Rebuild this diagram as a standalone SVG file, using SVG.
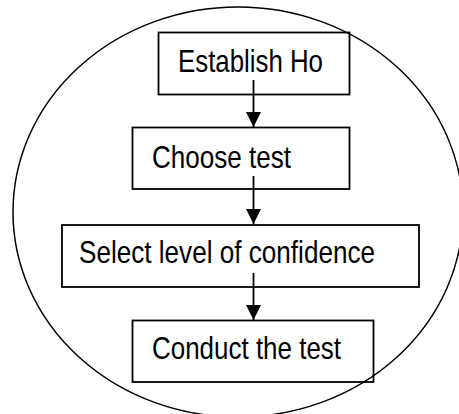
<svg xmlns="http://www.w3.org/2000/svg" width="459" height="414" viewBox="0 0 459 414">
<defs>
<style>
.box{fill:none;stroke:#000;stroke-width:1.8}
.lbl{font-family:"Liberation Sans",Arial,sans-serif;font-size:30.5px;fill:#000}
.conn{stroke:#000;stroke-width:1.8;fill:none}
</style>
<marker id="ah" markerWidth="16" markerHeight="16" refX="15" refY="7.5" orient="auto" markerUnits="userSpaceOnUse">
<path d="M0,0 L15,7.5 L0,15 Z" fill="#000"/>
</marker>
</defs>
<rect width="459" height="414" fill="#fff"/>
<ellipse id="boundary" cx="238" cy="212" rx="225" ry="205" fill="none" stroke="#000" stroke-width="1.5"/>
<g id="connectors">
<line class="conn" x1="253.5" y1="80" x2="253.5" y2="127" marker-end="url(#ah)"/>
<line class="conn" x1="253.5" y1="176" x2="253.5" y2="224" marker-end="url(#ah)"/>
<line class="conn" x1="253.5" y1="273" x2="253.5" y2="320" marker-end="url(#ah)"/>
</g>
<g id="n1">
<rect class="box" x="158.5" y="32.5" width="191" height="62"/>
<text class="lbl" x="178" y="72" textLength="145" lengthAdjust="spacingAndGlyphs">Establish Ho</text>
</g>
<g id="n2">
<rect class="box" x="132.5" y="127.5" width="217" height="61.5"/>
<text class="lbl" x="152" y="167.5" textLength="139" lengthAdjust="spacingAndGlyphs">Choose test</text>
</g>
<g id="n3">
<rect class="box" x="62" y="225" width="357" height="62"/>
<text class="lbl" x="79" y="263" textLength="296" lengthAdjust="spacingAndGlyphs">Select level of confidence</text>
</g>
<g id="n4">
<rect class="box" x="132.5" y="320.5" width="241" height="61.5"/>
<text class="lbl" x="152" y="359" textLength="189" lengthAdjust="spacingAndGlyphs">Conduct the test</text>
</g>
</svg>
